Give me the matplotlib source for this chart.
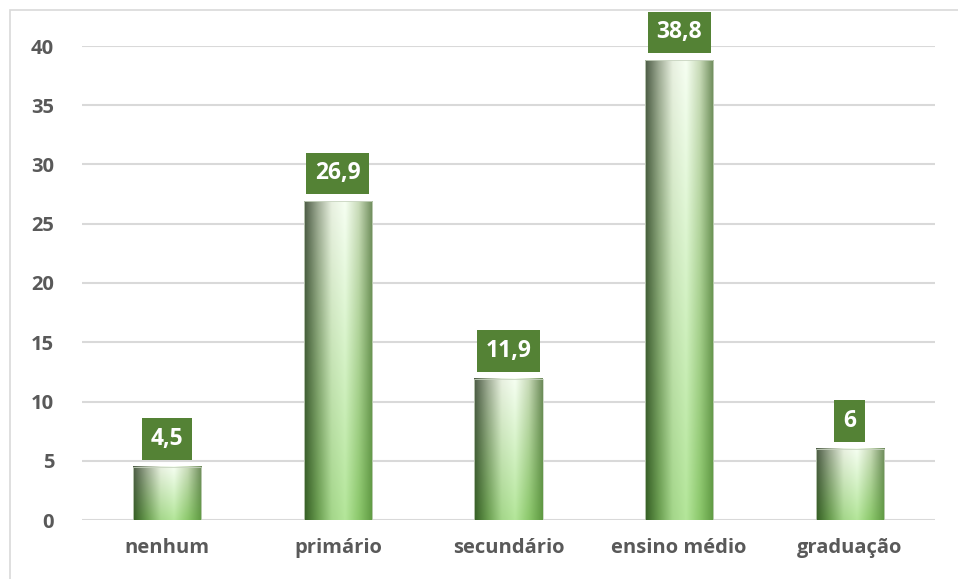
import numpy as np
import matplotlib.pyplot as plt
from matplotlib.colors import to_rgb
from matplotlib.patches import Rectangle

categorias = ['nenhum', 'primário', 'secundário', 'ensino médio', 'graduação']
valores = [4.5, 26.9, 11.9, 38.8, 6]
rotulos = ['4,5', '26,9', '11,9', '38,8', '6']

plt.rcParams['font.family'] = ['Open Sans', 'DejaVu Sans']

fig = plt.figure(figsize=(9.58, 5.79), dpi=100)
ax = fig.add_axes([82 / 958, 1 - 520 / 579, (935 - 82) / 958, (520 - 46) / 579])

# moldura cinza em volta do gráfico
fig.patches.append(Rectangle((10 / 958, -0.01), 1.0, 1 - 10 / 579 + 0.01,
                             transform=fig.transFigure, fill=False,
                             ec='#d9d9d9', lw=1.2))

# gradiente das barras: linha de cima e linha de baixo
topo = ['#4d5c46', '#a0ac96', '#e8f0e0', '#f6fff2', '#c8dab8', '#6f8c5c']
base = ['#355f24', '#6a9e50', '#a4d68a', '#b4e69a', '#8cc86c', '#5f9a42']
pos = np.linspace(0, 1, len(topo))
nx, ny = 60, 60
u = np.linspace(0, 1, nx)
top_rgb = np.array([np.interp(u, pos, [to_rgb(c)[k] for c in topo]) for k in range(3)]).T
bot_rgb = np.array([np.interp(u, pos, [to_rgb(c)[k] for c in base]) for k in range(3)]).T
v = np.linspace(0, 1, ny)[:, None, None]  # 0 = topo, 1 = base
img = top_rgb[None, :, :] * (1 - v) + bot_rgb[None, :, :] * v

largura = 0.4
for i, val in enumerate(valores):
    ax.imshow(img, extent=(i - largura / 2, i + largura / 2, 0, val),
              aspect='auto', interpolation='bilinear', zorder=2)
    ax.add_patch(Rectangle((i - largura / 2, 0), largura, val, fill=False,
                           ec='#c8d4c0', lw=0.6, zorder=3))
    ax.annotate(rotulos[i], (i, val), xytext=(0, 20), textcoords='offset points',
                ha='center', va='center', color='white', fontsize=16.5,
                fontweight='bold', annotation_clip=False,
                bbox=dict(boxstyle='square,pad=0.38', fc='#548235', ec='none'),
                zorder=4)

ax.set_xlim(-0.5, 4.5)
ax.set_ylim(0, 40)
ax.set_yticks(range(0, 41, 5))
ax.set_xticks(range(len(categorias)))
ax.set_xticklabels(categorias)
ax.yaxis.grid(True, color='#d9d9d9', lw=1.5, zorder=0)
ax.set_axisbelow(True)
for s in ax.spines.values():
    s.set_visible(False)
ax.tick_params(length=0, labelsize=14.5, labelcolor='#595959')
ax.tick_params(axis='x', pad=13)
ax.tick_params(axis='y', pad=20)
for t in ax.get_xticklabels() + ax.get_yticklabels():
    t.set_fontweight('bold')

fig.savefig('out.png', dpi=100)
